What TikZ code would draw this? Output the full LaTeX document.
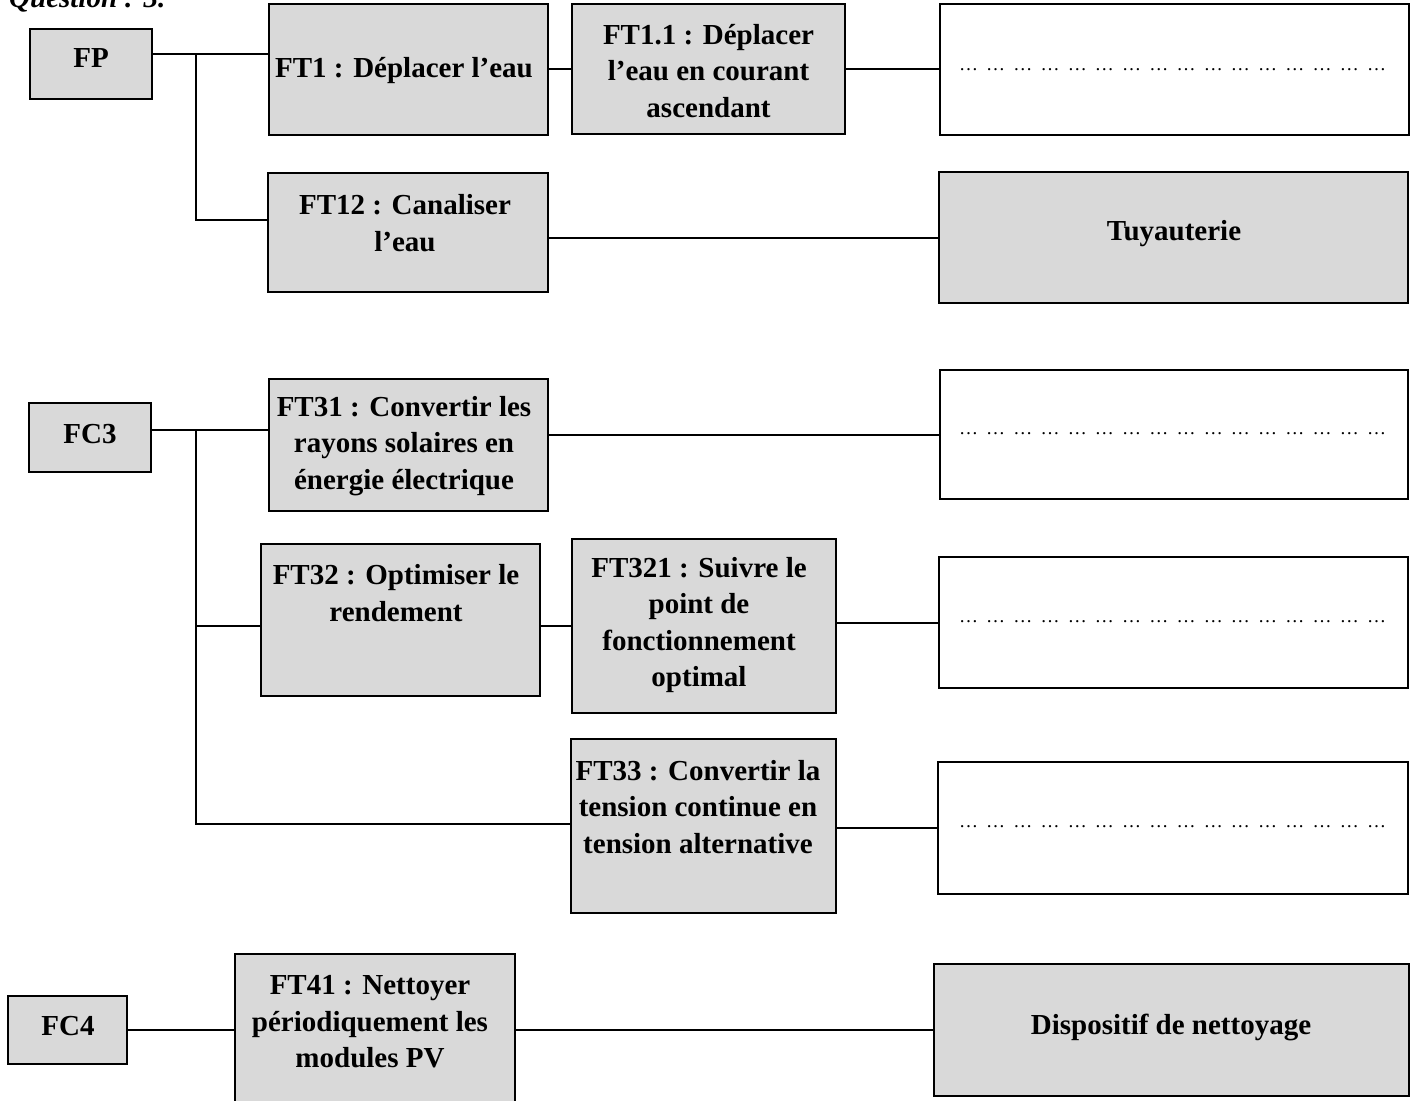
\documentclass[tikz,border=0pt]{standalone}
\usepackage{fontspec}
\setmainfont{Liberation Serif}
\definecolor{boxgray}{RGB}{217,217,217}
\tikzset{
  gbox/.style={draw=black, line width=2.4pt, fill=boxgray, inner sep=0pt, outer sep=0pt},
  wbox/.style={draw=black, line width=2.4pt, fill=white, inner sep=0pt, outer sep=0pt},
  lbl/.style={font=\fontsize{29}{36.5}\selectfont\bfseries, align=center, inner sep=0pt},
  dotfill/.style={font=\fontsize{19}{22}\selectfont, inner sep=0pt, anchor=base},
  link/.style={line width=2pt}
}
\newcommand{\dotgroup}{\makebox[27.2pt][l]{…}}
\newcommand{\dotline}{\dotgroup\dotgroup\dotgroup\dotgroup\dotgroup\dotgroup\dotgroup\dotgroup\dotgroup\dotgroup\dotgroup\dotgroup\dotgroup\dotgroup\dotgroup\makebox[18pt][l]{…}}
\begin{document}
\begin{tikzpicture}[x=1pt,y=-1pt]
\useasboundingbox (0,0) rectangle (1421,1100);

\node[font=\fontsize{29}{35}\selectfont\bfseries\itshape, anchor=base west, inner sep=0pt] (q) at (9,8) {Question : 3.};

% boxes
\node[gbox, minimum width=122pt, minimum height=70pt] (FP) at (91,64) {};
\node[gbox, minimum width=279pt, minimum height=131pt] (FT1) at (408.5,69.5) {};
\node[gbox, minimum width=273pt, minimum height=130pt] (FT11) at (708.5,69) {};
\node[wbox, minimum width=469pt, minimum height=131pt] (B1) at (1174.5,69.5) {};
\node[gbox, minimum width=280pt, minimum height=119pt] (FT12) at (408,232.5) {};
\node[gbox, minimum width=469pt, minimum height=131pt] (Tuy) at (1173.5,237.5) {};

\node[gbox, minimum width=122pt, minimum height=69pt] (FC3) at (90,437.5) {};
\node[gbox, minimum width=279pt, minimum height=132pt] (FT31) at (408.5,445) {};
\node[wbox, minimum width=468pt, minimum height=129pt] (B2) at (1174,434.5) {};
\node[gbox, minimum width=279pt, minimum height=152pt] (FT32) at (400.5,620) {};
\node[gbox, minimum width=264pt, minimum height=174pt] (FT321) at (704,626) {};
\node[wbox, minimum width=469pt, minimum height=131pt] (B3) at (1173.5,622.5) {};
\node[gbox, minimum width=265pt, minimum height=174pt] (FT33) at (703.5,826) {};
\node[wbox, minimum width=470pt, minimum height=132pt] (B4) at (1173,828) {};

\node[gbox, minimum width=119pt, minimum height=68pt] (FC4) at (67.5,1030) {};
\node[gbox, minimum width=280pt, minimum height=156pt] (FT41) at (375,1032) {};
\node[gbox, minimum width=475pt, minimum height=132pt] (Disp) at (1171.5,1030) {};

% texts
\node[lbl] (FPt) at (91,58) {FP};
\node[lbl] (FT1t) at (404,71) {FT1 : Déplacer l’eau};
\node[lbl] (FT11t) at (708.5,71) {FT1.1 : Déplacer\\l’eau en courant\\ascendant};
\node[dotfill] (B1t) at (1172,70) {\dotline};
\node[lbl] (FT12t) at (405,223) {FT12 : Canaliser\\l’eau};
\node[lbl] (Tuyt) at (1174,234) {Tuyauterie};

\node[lbl] (FC3t) at (90,434) {FC3};
\node[lbl] (FT31t) at (404,446) {FT31 : Convertir les\\rayons solaires en\\énergie électrique};
\node[dotfill] (B2t) at (1172,434) {\dotline};
\node[lbl] (FT32t) at (396,593) {FT32 : Optimiser le\\rendement};
\node[lbl] (FT321t) at (699,625) {FT321 : Suivre le\\point de\\fonctionnement\\optimal};
\node[dotfill] (B3t) at (1172,622) {\dotline};
\node[lbl] (FT33t) at (698,807) {FT33 : Convertir la\\tension continue en\\tension alternative};
\node[dotfill] (B4t) at (1172,827) {\dotline};

\node[lbl] (FC4t) at (68,1026) {FC4};
\node[lbl] (FT41t) at (370,1022) {FT41 : Nettoyer\\périodiquement les\\modules PV};
\node[lbl] (Dispt) at (1171,1027) {Dispositif de nettoyage};

% junction coordinates
\coordinate (jFP) at (196,54);
\coordinate (bFT12) at (196,220);
\coordinate (jFC3) at (196,430);
\coordinate (bFT32) at (196,626);
\coordinate (bFT33) at (196,824);

% connectors
\draw[link] (FP.east |- jFP) -- (jFP) -- (jFP -| FT1.west);
\draw[link] (jFP) -- (bFT12) -- (bFT12 -| FT12.west);
\draw[link] (FT1.east |- FT11.west) -- (FT11.west);
\draw[link] (FT11.east) -- (FT11.east -| B1.west);
\draw[link] (Tuy.west -| FT12.east) -- (Tuy.west);

\draw[link] (FC3.east |- jFC3) -- (jFC3) -- (jFC3 -| FT31.west);
\draw[link] (jFC3) -- (bFT33) -- (bFT33 -| FT33.west);
\draw[link] (bFT32) -- (bFT32 -| FT32.west);
\draw[link] (B2.west -| FT31.east) -- (B2.west);
\draw[link] (FT32.east |- bFT32) -- (bFT32 -| FT321.west);
\draw[link] (B3.west -| FT321.east) -- (B3.west);
\draw[link] (B4.west -| FT33.east) -- (B4.west);

\draw[link] (FC4.east) -- (FC4.east -| FT41.west);
\draw[link] (Disp.west -| FT41.east) -- (Disp.west);
\end{tikzpicture}
\end{document}
